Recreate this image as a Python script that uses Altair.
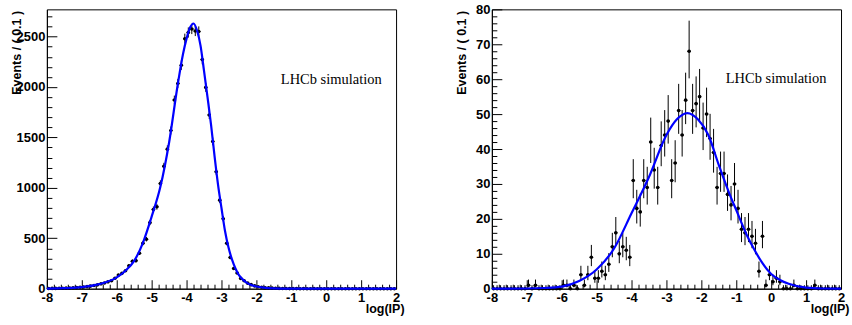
import altair as alt
import numpy as np
import pandas as pd

# ---------------- data ----------------
n_bins = 100
bin_centers = [round(-7.95 + 0.1 * k, 2) for k in range(n_bins)]

left_counts = [
    2, 3, 3, 4, 5, 6, 7, 9, 11, 14,
    17, 21, 26, 31, 38, 48, 57, 68, 79, 104,
    135, 152, 178, 227, 272, 278, 352, 451, 490, 655,
    786, 812, 1042, 1213, 1384, 1568, 1871, 2035, 2216, 2479,
    2540, 2575, 2555, 2550, 2272, 1996, 1723, 1460, 1160, 878,
    694, 451, 310, 201, 155, 102, 79, 55, 40, 28,
    20, 14, 10, 8, 6, 4, 3, 2, 2, 1,
    1, 1, 0, 1, 0, 0, 1, 0, 0, 0,
    0, 0, 0, 0, 0, 0, 0, 0, 0, 0,
    0, 0, 0, 0, 0, 0, 0, 0, 0, 0,
]

right_counts = [
    0, 0, 0, 0, 0, 0, 0, 0, 0, 0,
    1, 0, 1, 0, 0, 0, 0, 0, 0, 0,
    1, 1, 0, 1, 0, 4, 1, 4, 9, 3,
    3, 5, 4, 7, 12, 16, 10, 12, 11, 9,
    31, 23, 22, 31, 29, 42, 34, 29, 41, 44,
    48, 31, 36, 51, 44, 54, 68, 51, 53, 55,
    46, 50, 43, 39, 29, 33, 33, 27, 24, 30,
    23, 17, 16, 17, 15, 13, 5, 15, 1, 4,
    2, 3, 2, 0, 0, 0, 1, 0, 0, 0,
    0, 0, 1, 0, 0, 0, 0, 0, 0, 0,
]

left_curve_x = [-8, -7.5, -7, -6.5, -6, -5.75, -5.5, -5.25, -5, -4.75, -4.5, -4.25,
                -4.1, -4, -3.9, -3.8, -3.7, -3.6, -3.5, -3.4, -3.3, -3.2, -3.1, -3,
                -2.9, -2.8, -2.7, -2.6, -2.5, -2.4, -2.3, -2.2, -2.0, -1.8, -1.5, -1.0,
                -0.5, 0, 1, 2]
left_curve_y = [1, 5, 15, 45, 112, 178, 276, 455, 715, 1010, 1450, 2030,
                2330, 2480, 2590, 2630, 2560, 2410, 2160, 1900, 1630, 1320, 1035, 800,
                575, 410, 290, 200, 135, 95, 65, 45, 22, 10, 3, 0.5,
                0, 0, 0, 0]

right_curve_x = [-8, -7, -6.5, -6, -5.5, -5, -4.5, -4, -3.5, -3, -2.7, -2.4, -2.1,
                 -1.8, -1.5, -1.2, -1, -0.7, -0.5, -0.25, 0, 0.25, 0.5, 1, 1.5, 2]
right_curve_y = [0, 0.05, 0.2, 0.6, 2.2, 5.5, 11.5, 21.6, 32, 44, 48.5, 50.3, 48.5,
                 44, 35.4, 27.3, 22.5, 15.4, 11.5, 7.3, 4.2, 2.5, 1.4, 0.3, 0.05, 0]

x_major = [-8, -7, -6, -5, -4, -3, -2, -1, 0, 1, 2]
x_minor = [v / 10 for v in range(-80, 21, 2) if v % 10 != 0]
left_y_major = [0, 500, 1000, 1500, 2000, 2500]
left_y_minor = [v for v in range(0, 2800, 100) if v % 500 != 0]
right_y_major = [0, 10, 20, 30, 40, 50, 60, 70, 80]
right_y_minor = [v for v in range(0, 81, 2) if v % 10 != 0]

x_title = "log(IP)"
y_title = "Events / ( 0.1 )"
label_text = "LHCb simulation"

# ---------------- chart ----------------
W, H = 350, 280
FONT = "Liberation Sans"


def panel(counts, cx, cy, ymax, ymaj, ymin, text_y):
    d = pd.DataFrame({"x": bin_centers, "n": counts})
    s = np.sqrt(d["n"] + 0.25)
    d["lo"] = (d["n"] + 0.5 - s).clip(lower=0)
    d["hi"] = d["n"] + 0.5 + s
    d["xl"] = d["x"] - 0.05
    d["xr"] = d["x"] + 0.05
    c = pd.DataFrame({"cx": cx, "cy": cy})
    t = pd.DataFrame({"tx": [-1.3], "ty": [text_y], "t": [label_text]})

    xs = alt.Scale(domain=[-8, 2], nice=False, zero=False)
    ys = alt.Scale(domain=[0, ymax], nice=False, zero=False)

    ax_x = alt.Axis(values=x_major, labelExpr="'' + datum.value", title=x_title,
                    ticks=False, tickSize=0, labelPadding=3, labelFlush=False,
                    labelBaseline="top", titleX=W + 8, titleY=24, titleAlign="right",
                    titleBaseline="alphabetic")
    ax_y = alt.Axis(values=ymaj, labelExpr="'' + datum.value", title=y_title,
                    ticks=False, tickSize=0,
                    labelPadding=2, labelFlush=False, titleX=-23, titleY=1,
                    titleAlign="right", titleAngle=270, titleBaseline="bottom")
    tx_major = alt.Axis(orient="top", offset=-H, values=x_major, tickSize=9,
                        labels=False, domain=False, title=None)
    tx_minor = alt.Axis(orient="top", offset=-H, values=x_minor, tickSize=4.5,
                        labels=False, domain=False, title=None)
    ty_major = alt.Axis(orient="right", offset=-W, values=ymaj, tickSize=10,
                        labels=False, domain=False, title=None)
    ty_minor = alt.Axis(orient="right", offset=-W, values=ymin, tickSize=5,
                        labels=False, domain=False, title=None)

    err = alt.Chart(d).mark_rule(color="black", strokeWidth=1).encode(
        x=alt.X("x:Q", scale=xs, axis=ax_x),
        y=alt.Y("lo:Q", scale=ys, axis=ax_y),
        y2="hi:Q",
    )
    hbar = alt.Chart(d).mark_rule(color="black", strokeWidth=1).encode(
        x=alt.X("xl:Q", scale=xs, axis=tx_major),
        x2="xr:Q",
        y=alt.Y("n:Q", scale=ys, axis=ty_major),
    )
    pts = alt.Chart(d).mark_circle(size=13, color="black", opacity=1).encode(
        x=alt.X("x:Q", scale=xs, axis=tx_minor),
        y=alt.Y("n:Q", scale=ys, axis=ty_minor),
    )
    line = alt.Chart(c).mark_line(color="#0000ff", strokeWidth=2.2,
                                  interpolate="monotone").encode(
        x=alt.X("cx:Q", scale=xs, axis=None),
        y=alt.Y("cy:Q", scale=ys, axis=None),
    )
    txt = alt.Chart(t).mark_text(font="Liberation Serif", fontSize=14.5, align="left",
                                 baseline="middle", color="black").encode(
        x=alt.X("tx:Q", scale=xs, axis=None),
        y=alt.Y("ty:Q", scale=ys, axis=None),
        text="t:N",
    )
    return (
        alt.layer(err, hbar, pts, line, txt)
        .resolve_axis(x="independent", y="independent")
        .properties(width=W, height=H)
    )


left = panel(left_counts, left_curve_x, left_curve_y, 2770, left_y_major, left_y_minor, 2070)
right = panel(right_counts, right_curve_x, right_curve_y, 80, right_y_major, right_y_minor, 60)

chart = (
    alt.hconcat(left, right, spacing=96, bounds="flush")
    .properties(padding={"left": 10, "top": 2, "right": 2, "bottom": 5},
                background="white")
    .configure_view(stroke="black", strokeWidth=1)
    .configure_axis(grid=False, labelFont=FONT, labelFontWeight="bold", labelFontSize=13,
                    labelColor="black", titleFont=FONT, titleFontWeight="bold",
                    titleFontSize=12.5, titleColor="black", domainColor="black",
                    tickColor="black", domainWidth=1, tickWidth=1)
)

chart.save("out.html", embed_options={"renderer": "svg", "actions": False})
